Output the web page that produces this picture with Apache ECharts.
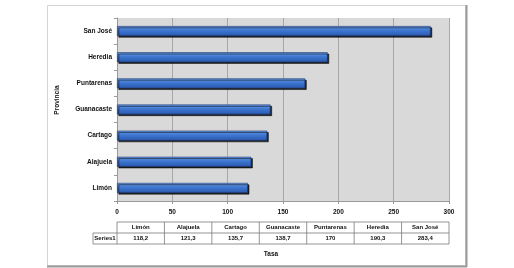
<!DOCTYPE html>
<html>
<head>
<meta charset="utf-8">
<script src="https://cdn.jsdelivr.net/npm/echarts@6/dist/echarts.min.js"></script>
<style>
  html, body { margin: 0; padding: 0; background: #fff; }
  #chart { width: 514px; height: 268px; }
</style>
</head>
<body>
<div id="chart"></div>
<script>
// provinces, bottom to top as on the axis
const provinces = ['Limón', 'Alajuela', 'Cartago', 'Guanacaste', 'Puntarenas', 'Heredia', 'San José'];
const tasa = [118.2, 121.3, 135.7, 138.7, 170, 190.3, 283.4];
const xTicks = [0, 50, 100, 150, 200, 250, 300];
const seriesName = 'Series1';

const chart = echarts.init(document.getElementById('chart'));

// plot area bounds
const L = 117, R = 449, T = 18, B = 201;
const W = 514, H = 268;

// data table below the axis
const fmt = v => String(v).replace('.', ',');
const colW = (R - L) / provinces.length;
const rowTop = 222, rowMid = 233, rowBot = 244;
const lineStyle = { stroke: '#7a7a7a', lineWidth: 0.8 };
const tableEls = [];
const hline = (x1, x2, y) => tableEls.push({ type: 'line', shape: { x1, y1: y, x2, y2: y }, style: lineStyle });
const vline = (x, y1, y2) => tableEls.push({ type: 'line', shape: { x1: x, y1, x2: x, y2 }, style: lineStyle });
hline(L, R, rowTop);
hline(93, R, rowMid);
hline(93, R, rowBot);
vline(93, rowMid, rowBot);
for (let i = 0; i <= provinces.length; i++) vline(L + i * colW, rowTop, rowBot);
const txt = (s, x, y) => tableEls.push({
  type: 'text', x, y,
  style: { text: s, fill: '#111', font: 'bold 6px "Liberation Sans", Arial', align: 'center', verticalAlign: 'middle' }
});
txt(seriesName, 105, (rowMid + rowBot) / 2);
provinces.forEach((p, i) => {
  const cx = L + (i + 0.5) * colW;
  txt(p, cx, (rowTop + rowMid) / 2);
  txt(fmt(tasa[i]), cx, (rowMid + rowBot) / 2);
});

chart.setOption({
  animation: false,
  grid: { left: L, right: W - R, top: T, bottom: H - B, show: true, backgroundColor: '#d9d9d9', borderWidth: 0 },
  xAxis: {
    type: 'value', min: xTicks[0], max: xTicks[xTicks.length - 1], interval: 50,
    axisLine: { show: true, lineStyle: { color: '#9a9a9a' } },
    axisTick: { show: true, length: 3, lineStyle: { color: '#9a9a9a' } },
    splitLine: { show: true, lineStyle: { color: '#a8a8a8', width: 1 } },
    axisLabel: { color: '#111', fontSize: 6.5, fontWeight: 'bold', fontFamily: 'Liberation Sans', margin: 8 }
  },
  yAxis: {
    type: 'category', data: provinces,
    axisLine: { show: true, lineStyle: { color: '#9a9a9a' } },
    axisTick: { show: true, length: 3, lineStyle: { color: '#9a9a9a' } },
    axisLabel: { color: '#111', fontSize: 6.5, fontWeight: 'bold', fontFamily: 'Liberation Sans', margin: 5 }
  },
  series: [{
    name: seriesName,
    type: 'bar',
    data: tasa,
    barWidth: 10,
    itemStyle: {
      color: new echarts.graphic.LinearGradient(0, 0, 0, 1, [
        { offset: 0, color: '#6ea2ea' },
        { offset: 0.45, color: '#3d76d0' },
        { offset: 1, color: '#2a58ad' }
      ]),
      borderColor: '#1d3670', borderWidth: 0.6,
      shadowColor: 'rgba(0,0,0,0.85)', shadowOffsetX: 1.5, shadowOffsetY: 1.5, shadowBlur: 0
    }
  }],
  graphic: [
    // outer chart frame with shadowed right and bottom edges
    { type: 'rect', z: -10, shape: { x: 47.5, y: 5.5, width: 418, height: 260 },
      style: { fill: '#fff', stroke: '#d4d4d4', lineWidth: 1 } },
    { type: 'line', z: -9, shape: { x1: 466.5, y1: 5, x2: 466.5, y2: 267 }, style: { stroke: '#9a9a9a', lineWidth: 2 } },
    { type: 'line', z: -9, shape: { x1: 47, y1: 266.5, x2: 467, y2: 266.5 }, style: { stroke: '#9a9a9a', lineWidth: 2 } },
    { type: 'text', x: 57, y: 100, rotation: Math.PI / 2,
      style: { text: 'Provincia', fill: '#111', font: 'bold 6.5px "Liberation Sans", Arial', align: 'center', verticalAlign: 'middle' } },
    { type: 'text', x: 271, y: 254,
      style: { text: 'Tasa', fill: '#111', font: 'bold 6.5px "Liberation Sans", Arial', align: 'center', verticalAlign: 'middle' } },
    ...tableEls
  ]
});
</script>
</body>
</html>
